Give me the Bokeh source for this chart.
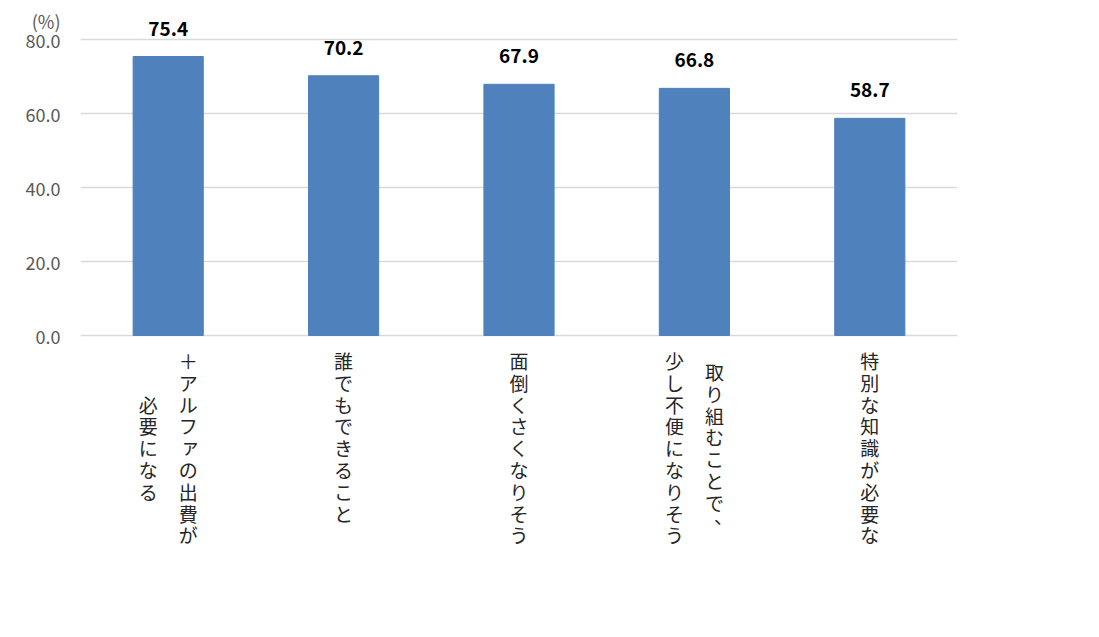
from bokeh.plotting import figure
from bokeh.models import ColumnDataSource, FixedTicker, NumeralTickFormatter
from bokeh.core.properties import value
from bokeh.embed import file_html
from bokeh.resources import INLINE

# ---- data ----
categories = ["＋アルファの出費が\n必要になる", "誰でもできること", "面倒くさくなりそう",
              "取り組むことで、\n少し不便になりそう", "特別な知識が必要な"]
values = [75.4, 70.2, 67.9, 66.8, 58.7]
y_ticks = [0, 20, 40, 60, 80]
unit_label = "(%)"
unit_pos = 85.1

FONT = "Noto Sans CJK JP"
BAR = "#4F81BD"

xs = [i + 0.5 for i in range(len(categories))]

p = figure(width=1083, height=621, x_range=(0, 5), y_range=(-71.62, 86.76),
           output_backend="svg", toolbar_location=None, x_axis_location=None,
           min_border_left=80, min_border_right=126, min_border_top=14, min_border_bottom=21)
p.outline_line_color = None
p.xgrid.visible = False
p.ygrid.ticker = FixedTicker(ticks=y_ticks)
p.ygrid.grid_line_color = "#D9D9D9"
p.ygrid.grid_line_width = 1.5
p.yaxis.ticker = FixedTicker(ticks=y_ticks + [unit_pos])
p.yaxis.formatter = NumeralTickFormatter(format="0.0")
p.yaxis.major_label_overrides = {unit_pos: unit_label}
p.yaxis.axis_line_color = None
p.yaxis.major_tick_line_color = None
p.yaxis.minor_tick_line_color = None
p.yaxis.major_label_text_font = FONT
p.yaxis.major_label_text_font_size = "18px"
p.yaxis.major_label_text_color = "#595959"
p.yaxis.major_label_standoff = 14

src = ColumnDataSource(dict(x=xs, top=values, lab=[f"{v:.1f}" for v in values]))
p.vbar(x="x", top="top", width=0.4, source=src, color=BAR)
p.text(x="x", y="top", text="lab", source=src, text_align="center", text_baseline="middle",
       y_offset=-28, text_font=value(FONT), text_font_style="bold", text_font_size="19px",
       text_color="#000000")

# vertical (tategaki) category labels, one glyph per character
pitch = 21.8
first = 25
col_gap = 20
cx, cxo, cyo, ct = [], [], [], []
for i, cat in enumerate(categories):
    lines = cat.split("\n")
    nmax = max(len(l) for l in lines)
    nl = len(lines)
    for j, line in enumerate(lines):
        # first line is rightmost
        xo = col_gap * ((nl - 1) / 2 - j) * 2 / max(nl - 1, 1) if nl > 1 else 0
        start = (nmax - len(line)) / 2
        for k, ch in enumerate(line):
            dx, dy = 0, 0
            if ch in "、。":
                dx, dy = 9, -9
            if ch in "ァィゥェォャュョッ":
                dx, dy = 2, -2
            cx.append(xs[i])
            cxo.append(xo + dx)
            cyo.append(first + (start + k) * pitch + dy)
            ct.append(ch)
csrc = ColumnDataSource(dict(x=cx, y=[0] * len(cx), xo=cxo, yo=cyo, t=ct))
p.text(x="x", y="y", x_offset="xo", y_offset="yo", text="t", source=csrc,
       text_align="center", text_baseline="middle", text_font=value(FONT),
       text_font_size="19px", text_color="#262626")

open("out.html", "w").write(file_html(p, INLINE))
